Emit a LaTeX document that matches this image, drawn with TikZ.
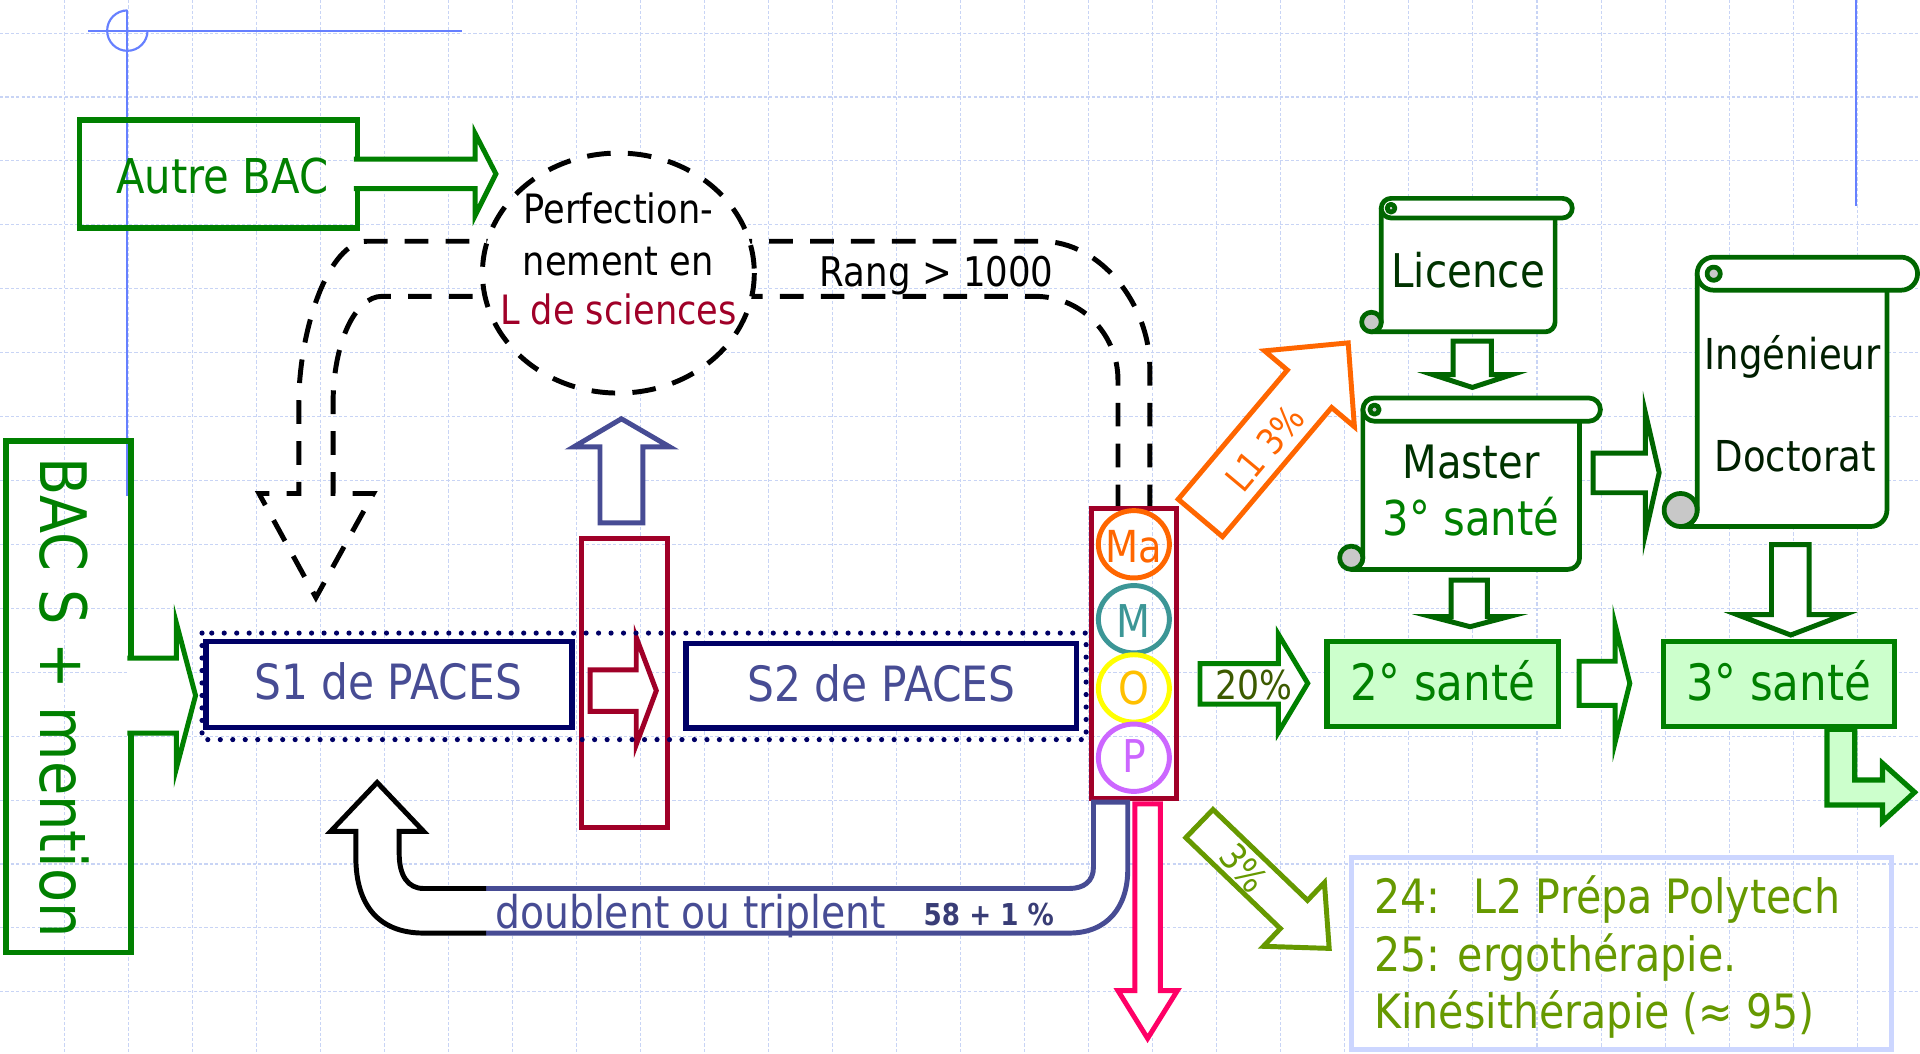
\documentclass[tikz,border=0pt]{standalone}
\usepackage{fontspec}
\setmainfont{DejaVu Sans}[FakeStretch=0.87]
\usepackage{xcolor}
\definecolor{bacgreen}{RGB}{0,128,0}
\definecolor{scrollgreen}{RGB}{0,102,0}
\definecolor{inkgreen}{RGB}{0,51,0}
\definecolor{pacesnavy}{RGB}{0,0,102}
\definecolor{pacesslate}{RGB}{71,76,148}
\definecolor{crimson}{RGB}{160,0,40}
\definecolor{maorange}{RGB}{255,102,0}
\definecolor{mteal}{RGB}{60,150,150}
\definecolor{oyellow}{RGB}{255,255,0}
\definecolor{ogold}{RGB}{255,192,0}
\definecolor{pviolet}{RGB}{204,102,255}
\definecolor{outpink}{RGB}{255,0,102}
\definecolor{olive}{RGB}{102,153,0}
\definecolor{darkolive}{RGB}{60,90,0}
\definecolor{santefill}{RGB}{204,255,204}
\definecolor{infoborder}{RGB}{204,214,255}
\definecolor{gridblue}{RGB}{200,212,245}
\definecolor{guideblue}{RGB}{102,128,255}
\definecolor{curlgrey}{RGB}{200,200,200}

\newcommand{\fsz}[1]{\fontsize{#1pt}{#1pt}\selectfont}
\newcommand{\scrollbox}[5]{%
  \pgfmathsetmacro{\sr}{#4/2}%
  \pgfmathsetmacro{\sx}{#2+#4-2}%
  \draw[scrollline, fill=white] (#1,{#3+\sr}) -- (#1,{#5-\sr}) .. controls (#1,{#5-0.45*\sr}) and ({#1-0.45*\sr},#5) .. ({#1-\sr},#5) -- ({#2-\sr},#5) .. controls ({#2-0.45*\sr},#5) and (#2,{#5-0.45*\sr}) .. (#2,{#5-\sr}) -- (#2,{#3+\sr}) -- cycle;
  \draw[scrollline, fill=curlgrey] ({#1-\sr},{#5-\sr}) circle[radius=\sr];
  \draw[scrollline, fill=white] ({#1+\sr},#3) -- ({\sx-\sr},#3) .. controls ({\sx-0.45*\sr},#3) and (\sx,{#3+0.45*\sr}) .. (\sx,{#3+\sr}) .. controls (\sx,{#3+1.55*\sr}) and ({\sx-0.45*\sr},{#3+#4}) .. ({\sx-\sr},{#3+#4}) -- ({#1+\sr},{#3+#4}) .. controls ({#1+0.45*\sr},{#3+#4}) and (#1,{#3+1.55*\sr}) .. (#1,{#3+\sr}) .. controls (#1,{#3+0.45*\sr}) and ({#1+0.45*\sr},#3) .. ({#1+\sr},#3) -- cycle;
  \draw[scrollline, fill=curlgrey] ({#1+\sr},{#3+\sr}) circle[radius={0.4*\sr}];
}

\begin{document}
\begin{tikzpicture}[x=0.02cm, y=-0.02cm,
    lbl/.style={inner sep=0pt, anchor=base},
    gridline/.style={gridblue, line width=0.5pt, dash pattern=on 1.5pt off 1pt},
    greenbox/.style={bacgreen, line width=2.6pt},
    pacesbox/.style={draw=pacesnavy, line width=2.6pt, fill=white},
    darrow/.style={black, line width=2.3pt, dash pattern=on 11pt off 8pt},
    scrollline/.style={draw=scrollgreen, line width=2.2pt, line join=round},
    blockarrow/.style={line width=2.3pt, fill=white, line join=miter},
    mop/.style={line width=2.3pt}]
    \fill[white] (0,0) rectangle (1568,860);
    \useasboundingbox (0,0) rectangle (1568,860);
    \foreach \i in {1,...,29} \draw[gridline] ({52.3*\i},0) -- ({52.3*\i},860);
    \foreach \j in {0,...,16} \draw[gridline] (0,{27+52.2*\j}) -- (1568,{27+52.2*\j});

    \draw[guideblue, line width=1pt] (72,25) -- (377,25);
    \draw[guideblue, line width=1pt] (104,8) -- (104,405);
    \draw[guideblue, line width=1pt] (104,8.5) arc[start angle=270, end angle=0, radius=16.5];
    \draw[guideblue, line width=1pt] (1516,0) -- (1516,168);

    \draw[greenbox] (65,98) rectangle (292,186);
    \node[lbl, bacgreen] (autre) at (181.5,158) {\fsz{22.3}Autre BAC};
    \draw[blockarrow, draw=bacgreen] (289,130) -- (388,130) -- (388,109) -- (405,142) -- (388,176) -- (388,154) -- (289,154);

    \draw[greenbox] (5,360) rectangle (107,778);
    \node[lbl, bacgreen, rotate=-90, anchor=base west] (bacs) at (33,373) {\fsz{29.8}BAC S + mention};
    \draw[blockarrow, draw=bacgreen] (104,537.5) -- (144,537.5) -- (144,508.6) -- (159.7,568) -- (144,627.6) -- (144,598.7) -- (104,598.7);

    \draw[pacesbox] (168,524) rectangle (467,594);
    \node[lbl, pacesslate] (s1) at (317,571) {\fsz{22.6}S1 de PACES};
    \draw[pacesbox] (560,525.5) rectangle (879,594.3);
    \node[lbl, pacesslate] (s2) at (720,573) {\fsz{22.6}S2 de PACES};
    \draw[crimson, line width=2.3pt] (475,440) rectangle (545,676);
    \draw[blockarrow, draw=crimson] (482,547) -- (519.6,547) -- (519.6,520.5) -- (536,564) -- (519.6,608) -- (519.6,581) -- (482,581) -- cycle;
    \draw[pacesnavy, line width=2.4pt, line cap=round, dash pattern=on 0pt off 5.8pt] (165,517) rectangle (887,604);

    \draw[blockarrow, draw=pacesslate] (490,427) -- (490,365) -- (468.5,365) -- (507.5,342) -- (547,365) -- (525,365) -- (525,427) -- cycle;

    \draw[darrow] (939,415) -- (939,300) .. controls (939,250) and (900,197) .. (850,197) -- (560,197);
    \draw[darrow] (913,415) -- (913,310) .. controls (913,275) and (885,242) .. (845,242) -- (560,242);
    \draw[darrow] (450,197) -- (300,197) .. controls (268,197) and (244,270) .. (244,330) -- (244,403) -- (211.5,403) -- (258,488) -- (305,403) -- (272,403) -- (272,330) .. controls (272,280) and (290,242) .. (312,242) -- (450,242);
    \draw[darrow, fill=white] (505,223) ellipse[x radius=111, y radius=98];
    \node[lbl] (perf1) at (505,182.4) {\fsz{18.8}Perfection-};
    \node[lbl] (perf2) at (505,224.6) {\fsz{18.8}nement en};
    \node[lbl, crimson] (perf3) at (505,265.4) {\fsz{18.8}L de sciences};
    \node[lbl] (rang) at (765,234) {\fsz{19}Rang > 1000};

    \draw[crimson, line width=2.3pt] (891,415) rectangle (961,652);
    \draw[mop, maorange] (926,444.5) ellipse[x radius=29, y radius=27.5];
    \node[lbl, maorange] (ma) at (926,459) {\fsz{20.5}Ma};
    \draw[mop, mteal] (926,505.7) ellipse[x radius=29, y radius=27.5];
    \node[lbl, mteal] (m) at (926,520.5) {\fsz{21}M};
    \draw[mop, oyellow] (926,562.2) ellipse[x radius=29, y radius=27.5];
    \node[lbl, ogold] (o) at (926,575.5) {\fsz{21}O};
    \draw[mop, pviolet] (926,618.8) ellipse[x radius=29, y radius=27.5];
    \node[lbl, pviolet] (p) at (926,630.5) {\fsz{21}P};

    \fill[white] (893,655) -- (893,708) .. controls (893,720) and (885,725.6) .. (873,725.6) -- (346,725.6) .. controls (333,725.6) and (326,715) .. (326,697) -- (326,679) -- (346,679) -- (308,639) -- (270,679) -- (290.6,679) -- (290.6,700) .. controls (290.6,740) and (310,762) .. (346,762) -- (873,762) .. controls (905,762) and (921,740) .. (921,710) -- (921,655) -- cycle;
    \draw[pacesslate, line width=2.3pt] (397,725.6) -- (873,725.6) .. controls (885,725.6) and (893,720) .. (893,708) -- (893,655) -- (921,655) -- (921,710) .. controls (921,740) and (905,762) .. (873,762) -- (397,762);
    \draw[black, line width=2.3pt, line join=miter] (397,725.6) -- (346,725.6) .. controls (333,725.6) and (326,715) .. (326,697) -- (326,679) -- (346,679) -- (308,639) -- (270,679) -- (290.6,679) -- (290.6,700) .. controls (290.6,740) and (310,762) .. (346,762) -- (397,762);
    \node[lbl, anchor=base west, pacesslate] (doublent) at (404,758) {\fsz{21}doublent ou triplent};
    \node[lbl, anchor=base west, pacesslate!80!black] (taux) at (754,755.5) {\fsz{14}\bfseries 58 + 1 \%};

    \draw[blockarrow, draw=outpink] (926.8,656.5) -- (926.8,809) -- (913,809) -- (937.2,848) -- (961.5,809) -- (947.6,809) -- (947.6,656.5) -- cycle;

    \draw[blockarrow, draw=maorange] (962.2,407.7) -- (1051.3,302.2) -- (1032.7,286.5) -- (1101,280) -- (1106.1,348.5) -- (1087.5,332.8) -- (998.4,438.3) -- cycle;
    \node[maorange, rotate=50, inner sep=0pt] (lone) at (1033,366) {\fsz{17}L1 3\%};

    \draw[blockarrow, draw=olive] (968.4,684.1) -- (1045.6,758.3) -- (1031.8,772.8) -- (1085.5,774.5) -- (1081.6,720.8) -- (1067.8,735.3) -- (990.6,661.1) -- cycle;
    \node[olive, rotate=-50, inner sep=0pt] (trois) at (1016,709) {\fsz{17}3\%};

    \draw[blockarrow, draw=bacgreen] (980,542) -- (1044,542) -- (1044,518) -- (1068,558) -- (1044,598) -- (1044,575) -- (980,575) -- cycle;
    \node[lbl, darkolive] (vingt) at (1024,571.6) {\fsz{18.5}20\%};

    \draw[infoborder, line width=2.3pt] (1104,700) rectangle (1544.5,857);
    \node[lbl, anchor=base west, olive] (info1) at (1122,746) {\fsz{22}24:\hspace{0.7em}L2 Prépa Polytech};
    \node[lbl, anchor=base west, olive] (info2) at (1122,793.5) {\fsz{22}25: ergothérapie.};
    \node[lbl, anchor=base west, olive] (info3) at (1122,840) {\fsz{22}Kinésithérapie (≈ 95)};

    \draw[bacgreen, line width=2.4pt, fill=santefill] (1083.7,524) rectangle (1272.9,593);
    \node[lbl, bacgreen] (deux) at (1178.5,571.7) {\fsz{23.3}2° santé};
    \draw[blockarrow, draw=bacgreen] (1289.6,540) -- (1319,540) -- (1319,510) -- (1331,558) -- (1319,606) -- (1319,576) -- (1289.6,576) -- cycle;
    \draw[bacgreen, line width=2.4pt, fill=santefill] (1358.7,524) rectangle (1547.2,593);
    \node[lbl, bacgreen] (troissante) at (1452.8,571.7) {\fsz{23.3}3° santé};
    \draw[draw=bacgreen, line width=2.4pt, fill=santefill, line join=miter] (1492,595.6) -- (1492,657.4) -- (1537.4,657.4) -- (1537.4,671) -- (1563.6,647) -- (1537.4,623.4) -- (1537.4,637) -- (1514.7,637) -- (1514.7,595.6) -- cycle;

    \scrollbox{1128}{1270}{162}{16}{271}
    \node[lbl, inkgreen] (licence) at (1199,234.7) {\fsz{21.6}Licence};
    \scrollbox{1113}{1290}{325}{19}{465}
    \node[lbl, inkgreen] (master) at (1201.5,390.7) {\fsz{21.4}Master};
    \node[lbl, bacgreen] (mastersante) at (1201.5,437.4) {\fsz{22.3}3° santé};
    \scrollbox{1386}{1541}{210}{27}{430}
    \node[lbl, inkgreen!60!black] (inge) at (1464,301.8) {\fsz{19.8}Ingénieur};
    \node[lbl, inkgreen!60!black] (doct) at (1466,385) {\fsz{19.8}Doctorat};

    \draw[blockarrow, draw=scrollgreen] (1186.7,278.5) -- (1186.7,306) -- (1170.3,306) -- (1202.4,316.4) -- (1234.5,306) -- (1218,306) -- (1218,278.5) -- cycle;
    \draw[blockarrow, draw=scrollgreen] (1185,473.7) -- (1185,503.6) -- (1169,503.6) -- (1200.6,511.8) -- (1232,503.6) -- (1214.6,503.6) -- (1214.6,473.7) -- cycle;
    \draw[blockarrow, draw=scrollgreen] (1446.7,444.7) -- (1446.7,502) -- (1418.8,502) -- (1462.4,518.6) -- (1506,502) -- (1477.4,502) -- (1477.4,444.7) -- cycle;
    \draw[blockarrow, draw=scrollgreen] (1301,370) -- (1343.7,370) -- (1343.7,337) -- (1355,386) -- (1343.7,436) -- (1343.7,402.4) -- (1301,402.4) -- cycle;
\end{tikzpicture}
\end{document}
